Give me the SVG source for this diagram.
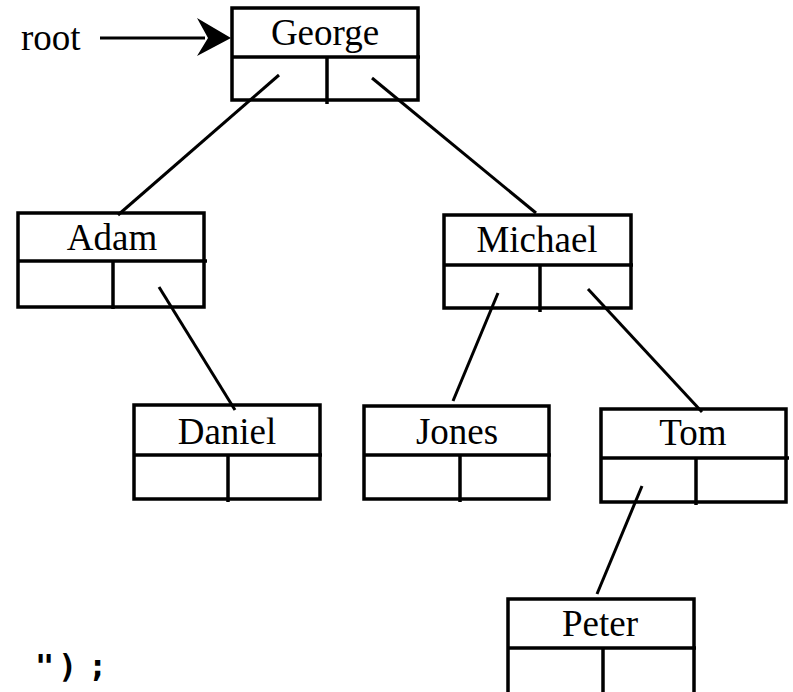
<svg xmlns="http://www.w3.org/2000/svg" width="793" height="692" viewBox="0 0 793 692">
  <style>
    .box { fill: none; stroke: #000; stroke-width: 3.5; }
    .sep { stroke: #000; stroke-width: 3.5; fill: none; }
    .link { stroke: #000; stroke-width: 3; fill: none; }
    .label { font-family: "Liberation Serif", "Times New Roman", serif; font-size: 37px; fill: #000; text-anchor: middle; }
    .root { font-family: "Liberation Serif", "Times New Roman", serif; font-size: 37px; fill: #000; }
    .code { font-family: "DejaVu Sans Mono", "Liberation Mono", monospace; font-weight: bold; font-size: 32px; fill: #000; }
  </style>

  <!-- root pointer -->
  <g id="root-pointer">
    <text class="root" x="21" y="50">root</text>
    <line class="link" x1="100" y1="38" x2="205" y2="38"/>
    <polygon points="231,38 197,18 208,38 197,56" fill="#000"/>
  </g>

  <!-- tree edges -->
  <g id="connectors">
    <line class="link" x1="279" y1="75" x2="118" y2="215"/>
    <line class="link" x1="372" y1="78" x2="536" y2="213"/>
    <line class="link" x1="159" y1="287" x2="235" y2="410"/>
    <line class="link" x1="498" y1="293" x2="453" y2="401"/>
    <line class="link" x1="588" y1="289" x2="702" y2="412"/>
    <line class="link" x1="642" y1="486" x2="597" y2="594"/>
  </g>

  <!-- nodes: name field on top, left/right child fields below -->
  <g id="node-george">
    <rect class="box" x="232" y="8" width="186" height="92"/>
    <line class="sep" x1="232" y1="57" x2="420" y2="57"/>
    <line class="sep" x1="327" y1="57" x2="327" y2="104"/>
    <text class="label" x="325" y="45">George</text>
  </g>

  <g id="node-adam">
    <rect class="box" x="18" y="213" width="186" height="94"/>
    <line class="sep" x1="18" y1="261" x2="207" y2="261"/>
    <line class="sep" x1="113" y1="261" x2="113" y2="309"/>
    <text class="label" x="112" y="250">Adam</text>
  </g>

  <g id="node-michael">
    <rect class="box" x="444" y="215" width="187" height="93"/>
    <line class="sep" x1="444" y1="265" x2="633" y2="265"/>
    <line class="sep" x1="540" y1="265" x2="540" y2="312"/>
    <text class="label" x="537" y="252">Michael</text>
  </g>

  <g id="node-daniel">
    <rect class="box" x="134" y="405" width="186" height="94"/>
    <line class="sep" x1="134" y1="455" x2="322" y2="455"/>
    <line class="sep" x1="228" y1="455" x2="228" y2="502"/>
    <text class="label" x="227" y="444">Daniel</text>
  </g>

  <g id="node-jones">
    <rect class="box" x="364" y="406" width="185" height="93"/>
    <line class="sep" x1="364" y1="455" x2="551" y2="455"/>
    <line class="sep" x1="460" y1="455" x2="460" y2="502"/>
    <text class="label" x="457" y="444">Jones</text>
  </g>

  <g id="node-tom">
    <rect class="box" x="601" y="409" width="185" height="93"/>
    <line class="sep" x1="601" y1="458" x2="789" y2="458"/>
    <line class="sep" x1="696" y1="458" x2="696" y2="505"/>
    <text class="label" x="693" y="445">Tom</text>
  </g>

  <g id="node-peter">
    <rect class="box" x="508" y="599" width="186" height="96"/>
    <line class="sep" x1="508" y1="648" x2="696" y2="648"/>
    <line class="sep" x1="603" y1="648" x2="603" y2="695"/>
    <text class="label" x="600" y="636">Peter</text>
  </g>

  <text class="code" x="35 58 88" y="677">");</text>
</svg>
